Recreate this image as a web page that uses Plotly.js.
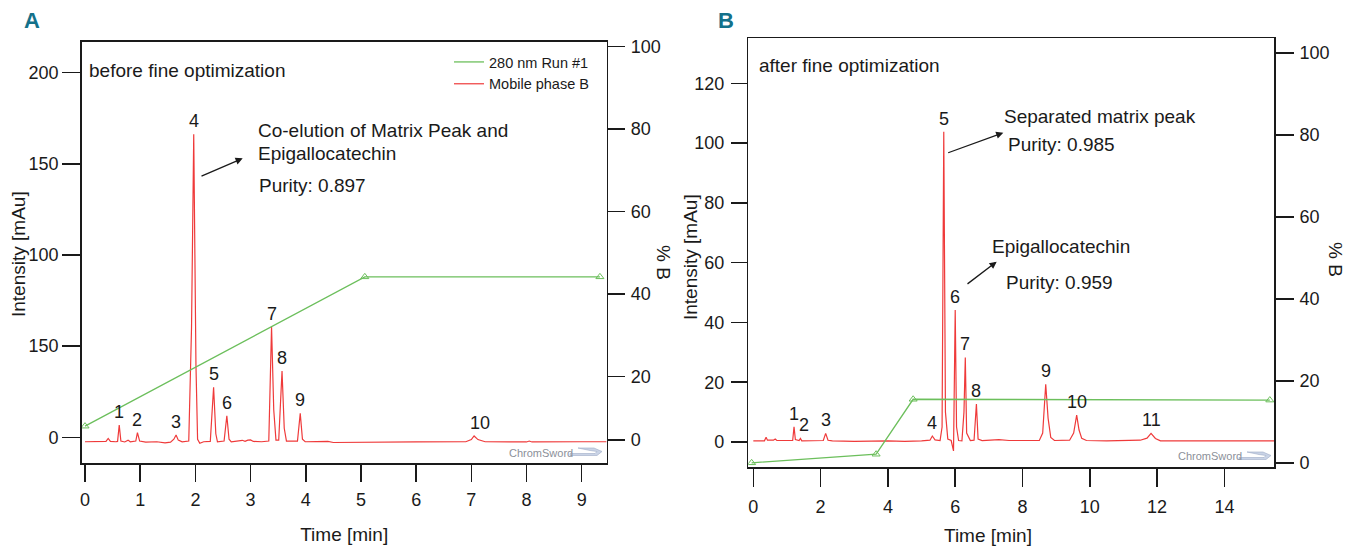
<!DOCTYPE html>
<html>
<head>
<meta charset="utf-8">
<script src="https://cdn.plot.ly/plotly-3.0.1.min.js"></script>
<style>html,body{margin:0;padding:0;background:#fff;}#chart{width:1348px;height:546px;}</style>
</head>
<body>
<div id="chart"></div>
<script>
// ---------- Panel A data (before fine optimization) ----------
const timeA = [0.00,0.30,0.38,0.42,0.46,0.56,0.59,0.62,0.65,0.72,0.78,0.82,0.92,0.95,0.99,1.10,1.30,1.45,1.55,1.61,1.65,1.69,1.76,1.88,1.93,1.97,2.01,2.04,2.08,2.15,2.27,2.33,2.37,2.40,2.52,2.57,2.61,2.65,2.80,2.85,2.90,2.95,3.00,3.05,3.20,3.33,3.38,3.42,3.46,3.51,3.57,3.61,3.65,3.85,3.90,3.94,3.99,4.30,4.40,4.50,5.00,6.00,6.90,7.00,7.05,7.12,7.25,8.00,8.05,8.10,9.00,9.45];
const intensityA = [-2.4,-2.5,-2.2,-0.6,-2.2,-2.4,-2.2,6.8,-2.0,-2.5,-1.5,-2.4,-2.0,2.6,-2.0,-2.6,-2.4,-3.0,-2.6,-1.0,1.3,-1.5,-2.4,-2.0,60,166.2,40,-1.0,-3.2,-2.4,-2.2,27.5,2.0,-2.4,-2.0,11.9,-1.0,-2.4,-2.0,-1.6,-2.2,-1.5,-1.4,-2.2,-2.4,-2.0,60.7,15,-1.5,-1.5,36.4,5,-2.0,-2.0,13.2,-1.0,-2.4,-2.5,-2.2,-2.8,-2.6,-2.5,-2.4,-1.2,0.8,-1.2,-2.4,-2.5,-2.0,-2.5,-2.4,-2.4];
const gradTimeA = [0, 5.07, 9.33];
const gradPctA = [8.0, 44.2, 44.2];
const peakLabelsA = ['1','2','3','4','5','6','7','8','9','10'];
const peakTimesA = [0.62,0.95,1.65,1.97,2.33,2.57,3.38,3.57,3.90,7.05];
const peakHeightsA = [6.8,2.6,1.3,166.2,27.5,11.9,60.7,36.4,13.2,0.8];
const yTickValsA = [0,50,100,150,200];
const yTickTextA = ['0','150','100','150','200'];

// ---------- Panel B data (after fine optimization) ----------
const timeB = [0.00,0.33,0.38,0.42,0.60,0.65,0.70,1.10,1.17,1.21,1.25,1.36,1.40,1.44,1.80,2.08,2.15,2.22,2.35,3.00,4.00,4.50,5.00,5.25,5.32,5.40,5.55,5.61,5.66,5.71,5.78,5.88,5.95,5.97,6.00,6.04,6.10,6.20,6.26,6.30,6.34,6.45,6.56,6.63,6.68,6.80,7.30,7.60,8.00,8.50,8.60,8.69,8.76,8.84,8.95,9.40,9.52,9.61,9.68,9.76,9.90,10.50,11.50,11.70,11.82,11.95,12.10,15.49];
const intensityB = [0.4,0.4,1.6,0.6,0.6,1.0,0.5,0.4,0.5,5.1,0.8,0.5,1.2,0.4,0.4,0.5,2.9,0.6,0.4,0.2,0.4,0.2,0.4,0.6,2.0,0.7,0.5,5,103.8,10,1.0,0.5,-3.0,20,44.2,5,0.5,0.4,10,28.3,3,0.5,0.6,12.7,1.0,0.5,0.8,0.5,0.4,0.5,3,19.3,8,1.5,0.5,0.6,3,9.0,4,1.2,0.5,0.4,0.6,1.3,2.9,1.2,0.4,0.4];
const gradTimeB = [-0.05, 3.65, 4.75, 15.35];
const gradPctB = [0, 2.1, 15.5, 15.3];
const peakLabelsB = ['1','2','3','4','5','6','7','8','9','10','11'];
const peakTimesB = [1.21,1.40,2.15,5.32,5.66,6.00,6.30,6.63,8.69,9.61,11.82];
const peakHeightsB = [5.1,1.2,2.9,2.0,103.8,44.2,28.3,12.7,19.3,9.0,2.9];

const seriesNames = ['280 nm Run #1', 'Mobile phase B'];

// ---------- helpers ----------
const W = 1348, H = 546;
const PX = x => x / W;
const PY = y => 1 - y / H;
const FONT = 'Liberation Sans, Arial, Helvetica, sans-serif';
const RED = '#ef3a3a';
const GREEN = '#6cbf5c';
const INK = '#1a1a1a';
const labelNudgeA = {'10': 6};
const labelNudgeB = {'2': 4};

const greenLine = {color: GREEN, width: 1.3};
const greenMarker = {symbol: 'triangle-up-open', size: 7, color: GREEN, line: {width: 1}};
const traces = [
  {x: gradTimeA, y: gradPctA, xaxis: 'x', yaxis: 'y2', name: seriesNames[0], mode: 'lines', line: greenLine},
  {x: timeA, y: intensityA, xaxis: 'x', yaxis: 'y', name: seriesNames[1], mode: 'lines', line: {color: RED, width: 1.2}},
  {x: gradTimeA, y: gradPctA, xaxis: 'x', yaxis: 'y2', name: seriesNames[0], mode: 'markers', showlegend: false, marker: greenMarker},
  {x: gradTimeB, y: gradPctB, xaxis: 'x2', yaxis: 'y4', name: seriesNames[0], mode: 'lines+markers', showlegend: false,
   line: greenLine, marker: greenMarker},
  {x: timeB, y: intensityB, xaxis: 'x2', yaxis: 'y3', name: seriesNames[1], mode: 'lines', showlegend: false,
   line: {color: RED, width: 1.2}}
];

const tickFont = {family: FONT, size: 18, color: INK};
const baseAxis = {showgrid: false, zeroline: false, showline: true, linecolor: INK, linewidth: 1.5,
  ticks: 'outside', tickcolor: INK, tickwidth: 1.5, tickfont: tickFont, fixedrange: true};

const annotations = [];
function txt(text, x, y, size, extra) {
  annotations.push(Object.assign({text: text, xref: 'paper', yref: 'paper', x: PX(x), y: PY(y),
    xanchor: 'left', yanchor: 'middle', showarrow: false, font: {family: FONT, size: size, color: INK}}, extra || {}));
}
function arrow(x0, y0, x1, y1) {
  annotations.push({text: '', xref: 'paper', yref: 'paper', x: PX(x1), y: PY(y1), ax: x0 - x1, ay: y0 - y1,
    showarrow: true, arrowhead: 2, arrowsize: 1.1, arrowwidth: 1.3, arrowcolor: INK});
}
// peak labels through data axes
peakLabelsA.forEach((lab, i) => annotations.push({text: lab, xref: 'x', yref: 'y', x: peakTimesA[i], y: peakHeightsA[i],
  xanchor: 'center', yanchor: 'bottom', yshift: 1, xshift: labelNudgeA[lab] || 0, showarrow: false,
  font: {family: FONT, size: 18, color: INK}}));
peakLabelsB.forEach((lab, i) => annotations.push({text: lab, xref: 'x2', yref: 'y3', x: peakTimesB[i], y: peakHeightsB[i],
  xanchor: 'center', yanchor: 'bottom', yshift: 1, xshift: labelNudgeB[lab] || 0, showarrow: false,
  font: {family: FONT, size: 18, color: INK}}));

// panel letters
txt('<b>A</b>', 31.7, 21, 22, {xanchor: 'center', font: {family: FONT, size: 22, color: '#14718a'}});
txt('<b>B</b>', 725.7, 21, 22, {xanchor: 'center', font: {family: FONT, size: 22, color: '#14718a'}});
// panel A texts
txt('before fine optimization', 87, 71, 19);
txt('Co-elution of Matrix Peak and', 255.5, 130, 19);
txt('Epigallocatechin', 255.5, 153.3, 19);
txt('Purity: 0.897', 257, 185, 19);
arrow(200, 176.7, 242.7, 158.3);
// panel B texts
txt('after fine optimization', 757, 65, 19);
txt('Separated matrix peak', 1002, 116.7, 19);
txt('Purity: 0.985', 1005.5, 145, 19);
arrow(946.7, 153.3, 1003.3, 132.7);
txt('Epigallocatechin', 989.5, 246.7, 19);
txt('Purity: 0.959', 1004, 282, 19);
arrow(966, 285, 996.7, 261.7);
// axis titles placed as in the reference
txt('Intensity [mAu]', 18, 254, 19, {xanchor: 'center', textangle: -90});
txt('Intensity [mAu]', 690, 257, 19, {xanchor: 'center', textangle: -90});
txt('% B', 664, 262, 19, {xanchor: 'center', textangle: 90});
txt('% B', 1336, 259, 19, {xanchor: 'center', textangle: 90});
txt('Time [min]', 988, 535, 19, {xanchor: 'center'});
// ChromSword watermarks
txt('ChromSword', 506.5, 452.7, 11, {font: {family: FONT, size: 11, color: '#8b9099'}});
txt('ChromSword', 1175.5, 456, 11, {font: {family: FONT, size: 11, color: '#8b9099'}});

function pennant(x0, y) {
  const p = [[x0, y + 3.5], [x0 + 27, y + 3.5], [x0 + 32, y - 0.5], [x0 + 24, y - 4], [x0 + 8, y - 4], [x0 + 20, y - 1.5], [x0 + 27, y - 0.5], [x0 + 25, y + 1.5], [x0, y + 1.5]];
  return {type: 'path', xref: 'paper', yref: 'paper',
    path: 'M' + p.map(q => PX(q[0]) + ',' + PY(q[1])).join(' L') + ' Z',
    fillcolor: '#c9d3e6', line: {color: '#9eabc6', width: 0.6}};
}

const layout = {
  width: W, height: H, margin: {l: 0, r: 0, t: 0, b: 0}, paper_bgcolor: '#fff', plot_bgcolor: '#fff',
  font: {family: FONT, color: INK},
  showlegend: true,
  legend: {x: PX(449), y: PY(46), xanchor: 'left', yanchor: 'top', bgcolor: 'rgba(0,0,0,0)', borderwidth: 0,
    font: {family: FONT, size: 14.5, color: INK}, tracegroupgap: 0},
  xaxis: Object.assign({}, baseAxis, {domain: [PX(81.7), PX(606.7)], range: [-0.06, 9.453], anchor: 'y', mirror: true,
    tickvals: [0,1,2,3,4,5,6,7,8,9], ticklen: 17, ticklabelstandoff: 3,
    title: {text: 'Time [min]', font: {family: FONT, size: 19, color: INK}, standoff: 18}}),
  yaxis: Object.assign({}, baseAxis, {domain: [PY(463.3), PY(41.7)], range: [-14.2, 216.9], anchor: 'x', mirror: true,
    tickvals: yTickValsA, ticktext: yTickTextA, ticklen: 18, ticklabelstandoff: 0}),
  yaxis2: Object.assign({}, baseAxis, {domain: [PY(463.3), PY(41.7)], range: [-1.0, 101.2], anchor: 'x', overlaying: 'y', side: 'right',
    tickvals: [4.65, 20, 40, 60, 80, 100], ticktext: ['0','20','40','60','80','100'], ticklen: 17, ticklabelstandoff: 2}),
  xaxis2: Object.assign({}, baseAxis, {domain: [PX(748.3), PX(1274.3)], range: [-0.149, 15.483], anchor: 'y3', mirror: true,
    tickvals: [0,2,4,6,8,10,12,14], ticklen: 18, ticklabelstandoff: 5}),
  yaxis3: Object.assign({}, baseAxis, {domain: [PY(467), PY(38.3)], range: [-8.36, 135.06], anchor: 'x2', mirror: true,
    tickvals: [0,20,40,60,80,100,120], ticklen: 16, ticklabelstandoff: 3}),
  yaxis4: Object.assign({}, baseAxis, {domain: [PY(467), PY(38.3)], range: [-1.02, 103.55], anchor: 'x2', overlaying: 'y3', side: 'right',
    tickvals: [0,20,40,60,80,100], ticklen: 18, ticklabelstandoff: 2}),
  annotations: annotations,
  shapes: [pennant(570, 452), pennant(1239, 456)]
};

Plotly.newPlot('chart', traces, layout, {displayModeBar: false, staticPlot: true});
</script>
</body>
</html>
